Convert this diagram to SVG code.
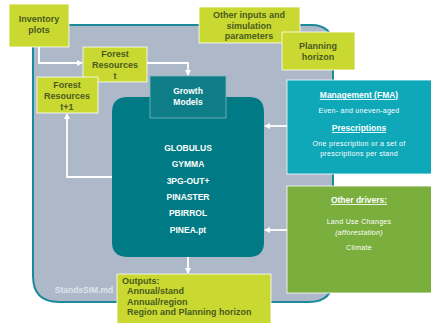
<svg xmlns="http://www.w3.org/2000/svg" width="431" height="323" viewBox="0 0 431 323">
<defs>
<marker id="ah" markerWidth="6" markerHeight="6" refX="5" refY="3" orient="auto" markerUnits="userSpaceOnUse"><path d="M0,0 L6,3 L0,6 z" fill="#ffffff"/></marker>
<style>
.lime{fill:#c9d932;stroke:#ffffff;stroke-width:0.8}
.lt{font-family:"Liberation Sans",Arial,sans-serif;font-weight:bold;font-size:9px;fill:#4a5a1f}
.c{text-anchor:middle}
.wt{font-family:"Liberation Sans",Arial,sans-serif;font-weight:bold;font-size:8.5px;fill:#ffffff;text-anchor:middle}
.st{font-family:"Liberation Sans",Arial,sans-serif;font-size:7px;fill:#ffffff;text-anchor:middle;letter-spacing:0.3px}
.hd{font-family:"Liberation Sans",Arial,sans-serif;font-weight:bold;font-size:8.5px;fill:#ffffff;text-anchor:middle;text-decoration:underline}
.conn{fill:none;stroke:#ffffff;stroke-width:1.8}
</style>
</defs>
<rect width="431" height="323" fill="#ffffff"/>
<g id="standssim">
<path d="M33,25 H311 Q333,25 333,47 V278 Q333,302 309,302 H59 Q33,302 33,276 Z" fill="#adb8c9" stroke="#1b8a9a" stroke-width="2"/>
<text x="84" y="293" style="font-family:'Liberation Sans',Arial,sans-serif;font-weight:bold;font-size:8.5px;fill:#dfe4ec" text-anchor="middle">StandsSIM.md</text>
</g>
<g id="models">
<path d="M128,97 H249 Q264,97 264,112 V242 Q264,257 249,257 H128 Q112,257 112,242 V112 Q112,97 128,97 Z" fill="#007a85"/>
<text class="wt" x="188" y="151">GLOBULUS</text>
<text class="wt" x="188" y="167">GYMMA</text>
<text class="wt" x="188" y="184">3PG-OUT+</text>
<text class="wt" x="188" y="200">PINASTER</text>
<text class="wt" x="188" y="216">PBIRROL</text>
<text class="wt" x="188" y="233">PINEA.pt</text>
</g>
<g id="growth">
<rect x="150" y="76" width="76" height="42" fill="#0e7d88" stroke="#7fb9c0" stroke-width="0.8"/>
<text class="wt" x="188" y="94">Growth</text>
<text class="wt" x="188" y="105">Models</text>
</g>
<g id="connectors">
<path class="conn" d="M39,47 V63 H82" marker-end="url(#ah)"/>
<path class="conn" d="M147,63 H188 V75" marker-end="url(#ah)"/>
<path class="conn" d="M112,177 H67 V114" marker-end="url(#ah)"/>
<path class="conn" d="M188,257 V273" marker-end="url(#ah)"/>
<path class="conn" d="M287,126 H265" marker-end="url(#ah)"/>
<path class="conn" d="M287,230 H265" marker-end="url(#ah)"/>
</g>
<g id="inventory">
<rect class="lime" x="9" y="4" width="60" height="43"/>
<text class="lt c" x="39" y="22">Inventory</text>
<text class="lt c" x="39" y="33">plots</text>
</g>
<g id="fr_t">
<rect class="lime" x="83" y="47" width="64" height="35"/>
<text class="lt c" x="115" y="57">Forest</text>
<text class="lt c" x="115" y="68">Resources</text>
<text class="lt c" x="115" y="79">t</text>
</g>
<g id="fr_t1">
<rect class="lime" x="37" y="77" width="61" height="36"/>
<text class="lt c" x="67" y="88">Forest</text>
<text class="lt c" x="67" y="99">Resources</text>
<text class="lt c" x="67" y="110">t+1</text>
</g>
<g id="other_inputs">
<rect class="lime" x="199" y="7" width="101" height="36"/>
<text class="lt c" x="249" y="18">Other inputs and</text>
<text class="lt c" x="249" y="29">simulation</text>
<text class="lt c" x="249" y="39">parameters</text>
</g>
<g id="planning">
<rect class="lime" x="282" y="32" width="73" height="38"/>
<text class="lt c" x="318" y="49">Planning</text>
<text class="lt c" x="318" y="60">horizon</text>
</g>
<g id="management">
<rect x="287" y="80" width="146" height="94" fill="#0ea8b9" stroke="#ffffff" stroke-width="0.8"/>
<text class="hd" x="359" y="98">Management (FMA)</text>
<text class="st" x="359" y="113">Even- and uneven-aged</text>
<text class="hd" x="359" y="131">Prescriptions</text>
<text class="st" x="359" y="146">One prescription  or a set of</text>
<text class="st" x="359" y="156">prescriptions  per stand</text>
</g>
<g id="drivers">
<rect x="287" y="186" width="146" height="107" fill="#7aaf3e" stroke="#ffffff" stroke-width="0.8"/>
<text class="hd" x="359" y="203">Other drivers:</text>
<text class="st" x="359" y="224">Land Use Changes</text>
<text class="st" x="359" y="235" font-style="italic">(afforestation)</text>
<text class="st" x="359" y="250">Climate</text>
</g>
<g id="outputs">
<rect class="lime" x="117" y="274" width="154" height="52"/>
<text class="lt" x="122" y="284">Outputs:</text>
<text class="lt" x="127" y="294">Annual/stand</text>
<text class="lt" x="127" y="305">Annual/region</text>
<text class="lt" x="127" y="315">Region and Planning horizon</text>
</g>
</svg>
